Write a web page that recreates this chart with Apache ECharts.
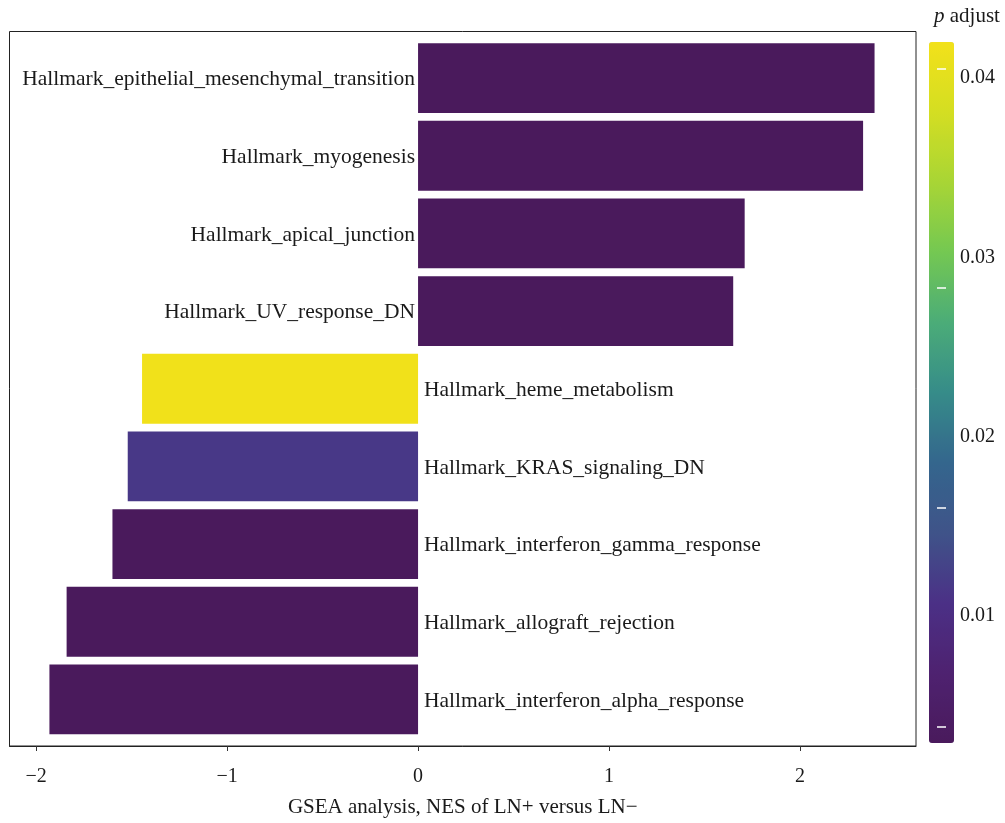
<!DOCTYPE html>
<html>
<head>
<meta charset="utf-8">
<script src="https://cdn.jsdelivr.net/npm/echarts@6/dist/echarts.min.js"></script>
<style>
  html, body { margin: 0; padding: 0; background: #fff; }
  #chart { width: 1005px; height: 823px; }
</style>
</head>
<body>
<div id="chart"></div>
<script>
// Hallmark gene sets, top to bottom
const pathways = [
  'Hallmark_epithelial_mesenchymal_transition',
  'Hallmark_myogenesis',
  'Hallmark_apical_junction',
  'Hallmark_UV_response_DN',
  'Hallmark_heme_metabolism',
  'Hallmark_KRAS_signaling_DN',
  'Hallmark_interferon_gamma_response',
  'Hallmark_allograft_rejection',
  'Hallmark_interferon_alpha_response'
];
// normalized enrichment scores
const nes = [2.39, 2.33, 1.71, 1.65, -1.445, -1.52, -1.60, -1.84, -1.93];
// adjusted p values
const padj = [0.0030, 0.0030, 0.0030, 0.0030, 0.0419, 0.0116, 0.0030, 0.0030, 0.0030];

// axis ticks
const xTicks = [-2, -1, 0, 1, 2];
const pLabelValues = [0.01, 0.02, 0.03, 0.04];
const pTickValues = [0.00381, 0.01602, 0.02829, 0.04051];
const pRange = [0.00292, 0.04201];

// viridis-style ramp, low to high
const ramp = ['#4A1A5C', '#4E2270', '#4B3086', '#3F5389', '#34668D', '#368C89',
              '#4BAC78', '#74C852', '#A8D535', '#D4DE22', '#F2E11A'];

const serif = '"Liberation Serif", "Times New Roman", serif';
const ink = '#1a1a1a';

const rows = nes.map((v, i) => [v, i, padj[i]]);

const chart = echarts.init(document.getElementById('chart'), null, { renderer: 'canvas' });

chart.setOption({
  backgroundColor: '#ffffff',
  animation: false,
  title: {
    text: '{i|p} adjust',
    left: 929,
    top: 1,
    textStyle: {
      fontFamily: serif, fontSize: 21, fontWeight: 'normal', color: ink,
      rich: { i: { fontFamily: serif, fontSize: 21, fontStyle: 'italic', color: ink } }
    }
  },
  grid: [
    { left: 9.5, right: 89, top: 31.5, bottom: 68, show: true, borderColor: '#222', borderWidth: 1, backgroundColor: 'transparent' },
    // colourbar labels
    { left: 929, top: 42, width: 25, height: 701, show: false },
    // colourbar tick marks, centred on the bar
    { left: 937, top: 42, width: 9, height: 701, show: false }
  ],
  xAxis: [
    {
      gridIndex: 0,
      type: 'value',
      min: -2.139,
      max: 2.607,
      name: 'GSEA analysis, NES of LN+ versus LN\u2212',
      nameLocation: 'middle',
      nameGap: 51,
      nameTextStyle: { fontFamily: serif, fontSize: 21, color: ink },
      axisLine: { show: true, onZero: false, lineStyle: { color: '#222', width: 1 } },
      axisTick: { show: true, length: 5, customValues: xTicks, lineStyle: { color: '#333' } },
      axisLabel: {
        customValues: xTicks,
        margin: 21,
        fontFamily: serif, fontSize: 20, color: ink,
        formatter: v => (v < 0 ? '\u2212' + Math.abs(v) : String(v))
      },
      splitLine: { show: false }
    },
    { gridIndex: 1, type: 'value', min: 0, max: 1, show: false },
    { gridIndex: 2, type: 'value', min: 0, max: 1, show: false }
  ],
  yAxis: [
    {
      gridIndex: 0,
      type: 'value',
      inverse: true,
      min: -0.6,
      max: 8.6,
      axisLine: { show: false },
      axisTick: { show: false },
      axisLabel: { show: false },
      splitLine: { show: false }
    },
    {
      gridIndex: 1,
      type: 'value',
      position: 'right',
      min: pRange[0],
      max: pRange[1],
      axisLine: { show: false },
      splitLine: { show: false },
      axisTick: { show: false },
      axisLabel: {
        customValues: pLabelValues,
        margin: 6,
        fontFamily: serif, fontSize: 20, color: ink,
        formatter: v => v.toFixed(2)
      }
    },
    {
      gridIndex: 2,
      type: 'value',
      position: 'left',
      z: 20,
      min: pRange[0],
      max: pRange[1],
      axisLine: { show: false },
      splitLine: { show: false },
      axisLabel: { show: false },
      axisTick: {
        show: true, inside: true, length: 9, customValues: pTickValues,
        lineStyle: { color: '#ffffff', width: 1.5 }
      }
    }
  ],
  visualMap: {
    type: 'continuous',
    seriesIndex: 0,
    dimension: 2,
    min: pRange[0],
    max: pRange[1],
    calculable: false,
    hoverLink: false,
    left: 929,
    top: 42,
    padding: 0,
    z: 2,
    itemWidth: 25,
    itemHeight: 701,
    text: null,
    inRange: { color: ramp }
  },
  series: [
    {
      type: 'custom',
      xAxisIndex: 0,
      yAxisIndex: 0,
      data: rows,
      encode: { x: 0, y: 1 },
      renderItem: function (params, api) {
        const v = api.value(0);
        const idx = api.value(1);
        const base = api.coord([0, idx]);
        const tip = api.coord([v, idx]);
        const h = api.size([0, 0.9])[1];
        const x = Math.min(base[0], tip[0]);
        const w = Math.abs(tip[0] - base[0]);
        return {
          type: 'group',
          children: [
            {
              type: 'rect',
              shape: { x: x, y: base[1] - h / 2, width: w, height: h },
              style: { fill: api.visual('color'), stroke: null, lineWidth: 0 }
            },
            {
              type: 'text',
              x: v > 0 ? base[0] - 3 : base[0] + 6,
              y: base[1] + 1.5,
              style: {
                text: pathways[params.dataIndex],
                align: v > 0 ? 'right' : 'left',
                verticalAlign: 'middle',
                font: '21.5px ' + serif,
                fill: ink
              }
            }
          ]
        };
      }
    }
  ]
});
</script>
</body>
</html>
